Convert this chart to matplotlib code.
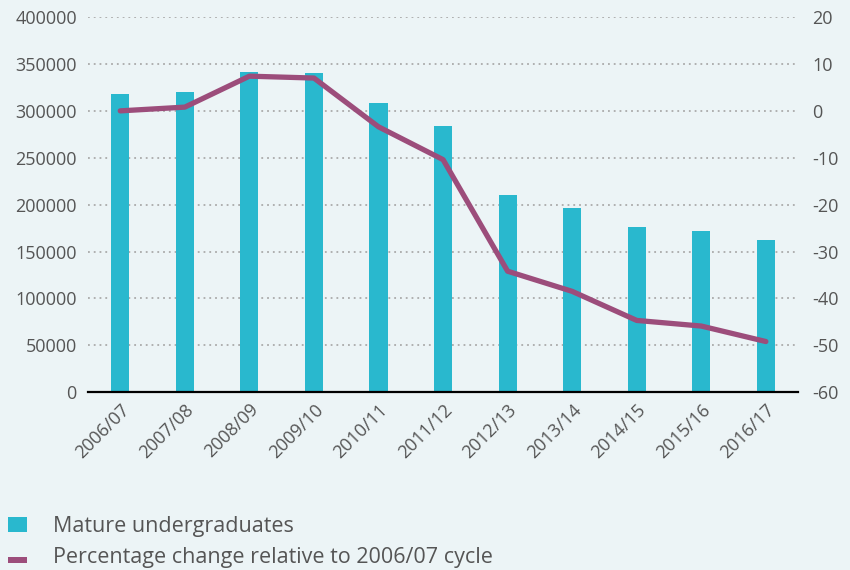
import matplotlib.pyplot as plt
from matplotlib.patches import Patch
import numpy as np

plt.rcParams['font.family'] = ['Open Sans', 'DejaVu Sans']
plt.rcParams['axes.unicode_minus'] = False

# data
years = ["2006/07", "2007/08", "2008/09", "2009/10", "2010/11", "2011/12",
         "2012/13", "2013/14", "2014/15", "2015/16", "2016/17"]
mature_ug = [318000, 320000, 341500, 340500, 308500, 284000,
             210500, 196500, 176500, 172000, 162500]
pct_change = [0.0, 0.8, 7.4, 7.0, -3.4, -10.4, -34.2, -38.5, -44.7, -45.9, -49.2]

bg = "#ECF4F6"
bar_col = "#29B8CE"
line_col = "#9C4D7B"
txt_col = "#555555"

fig = plt.figure(figsize=(8.5, 5.7), dpi=100, facecolor=bg)
ax = fig.add_axes([0.1035, 0.312, 0.8355, 0.658], facecolor=bg)
ax2 = ax.twinx()

x = np.arange(len(years))
ax.bar(x, mature_ug, width=0.28, color=bar_col, zorder=2)
ax2.plot(x, pct_change, color=line_col, lw=3.8, solid_capstyle="round",
         solid_joinstyle="round", zorder=3)

ax.set_xlim(-0.5, len(years) - 0.5)
ax.set_ylim(0, 400000)
ax.set_yticks(np.arange(0, 400001, 50000))
ax2.set_ylim(-60, 20)
ax2.set_yticks(np.arange(-60, 21, 10))

ax.yaxis.grid(True, color="#AAAAAA", linestyle=(0, (1, 2.2)), lw=1.3, zorder=0)
ax.set_axisbelow(True)

for a in (ax, ax2):
    for s in a.spines.values():
        s.set_visible(False)
ax.spines["bottom"].set_visible(True)
ax.spines["bottom"].set_color("black")
ax.spines["bottom"].set_linewidth(1.6)
ax.spines["bottom"].set_zorder(4)

ax.set_xticks(x)
ax.set_xticklabels(years, rotation=45, ha="right", rotation_mode="anchor")
ax.tick_params(axis="x", length=0, pad=6, labelsize=13, labelcolor=txt_col)
ax.tick_params(axis="y", length=0, pad=8, labelsize=13, labelcolor=txt_col)
ax2.tick_params(axis="y", length=0, pad=10, labelsize=13, labelcolor=txt_col)

ax.set_zorder(ax2.get_zorder() - 1)
ax2.patch.set_visible(False)

handles = [Patch(facecolor=bar_col, edgecolor="none"),
           Patch(facecolor=line_col, edgecolor="none")]
leg = fig.legend(handles, ["Mature undergraduates",
                           "Percentage change relative to 2006/07 cycle"],
                 loc="lower left", bbox_to_anchor=(8 / 850, 2 / 570), frameon=False,
                 fontsize=15.5, labelcolor=txt_col, handlelength=0.88,
                 handleheight=0.7, handletextpad=1.2, labelspacing=0.45,
                 borderpad=0, borderaxespad=0)
# make the line entry a flat bar like the reference
p = leg.get_patches()[1]
p.set_height(p.get_height() * 0.38)

fig.savefig("out.png", dpi=100, facecolor=bg)
